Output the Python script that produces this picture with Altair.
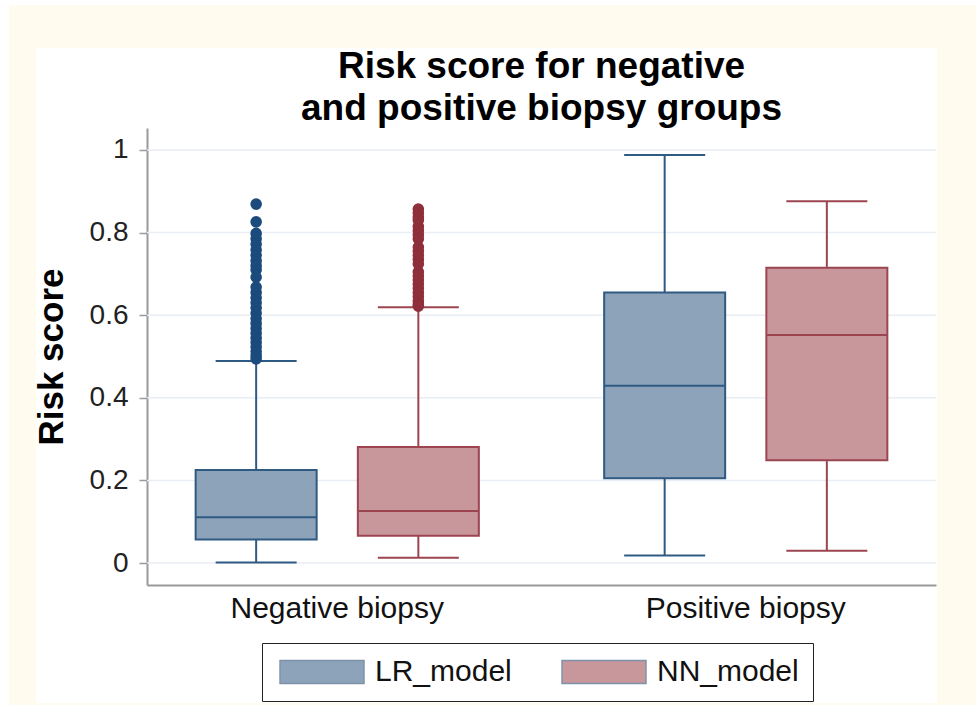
import altair as alt
import pandas as pd

# Summary statistics per biopsy group and model
groups = ["Negative biopsy", "Negative biopsy", "Positive biopsy", "Positive biopsy"]
models = ["LR_model", "NN_model", "LR_model", "NN_model"]
whisker_low = [0.001, 0.013, 0.018, 0.030]
q1 = [0.057, 0.066, 0.205, 0.249]
median = [0.111, 0.126, 0.429, 0.552]
q3 = [0.225, 0.281, 0.655, 0.715]
whisker_high = [0.489, 0.619, 0.988, 0.876]

# Outlying risk scores in the negative-biopsy group
lr_outliers = [0.869, 0.826, 0.798, 0.785, 0.772, 0.758, 0.745, 0.732, 0.720,
               0.710, 0.692, 0.668, 0.655, 0.642, 0.630, 0.618, 0.605, 0.592,
               0.580, 0.568, 0.556, 0.545, 0.534, 0.523, 0.512, 0.502, 0.494]
nn_outliers = [0.857, 0.848, 0.838, 0.830, 0.815, 0.805, 0.795, 0.785, 0.765,
               0.755, 0.745, 0.735, 0.724, 0.705, 0.695, 0.685, 0.675, 0.665,
               0.655, 0.645, 0.635, 0.627, 0.622]

y_ticks = [0, 0.2, 0.4, 0.6, 0.8, 1]
model_names = ["LR_model", "NN_model"]
fill_colors = ["#8ca3ba", "#c8979c"]
line_colors = ["#2f5a82", "#9c4551"]
dot_colors = ["#1b4b7d", "#8e2f3b"]

FONT = "Liberation Sans"
W, H = 789, 457
LEFT, TOP = 147, 128

stats = pd.DataFrame({
    "group": groups, "model": models, "low": whisker_low, "q1": q1,
    "median": median, "q3": q3, "high": whisker_high,
})
stats["series"] = stats["model"]
outliers = pd.DataFrame({
    "group": ["Negative biopsy"] * (len(lr_outliers) + len(nn_outliers)),
    "series": ["LR_model"] * len(lr_outliers) + ["NN_model"] * len(nn_outliers),
    "value": lr_outliers + nn_outliers,
})
outliers["model"] = outliers["series"]
grid = pd.DataFrame({"tick": y_ticks})

x_enc = alt.X("group:N", title=None,
              scale=alt.Scale(paddingInner=0.2, paddingOuter=0.0657),
              axis=alt.Axis(labelAngle=0, ticks=False, labelFontSize=30,
                            labelFont=FONT, labelColor="#111", labelPadding=8,
                            labelLimit=0, domainColor="#9a9a9a", domainWidth=2,
                            grid=False))
xoff = alt.XOffset("model:N", scale=alt.Scale(paddingInner=0, paddingOuter=0.0075))
yscale = alt.Scale(domain=[-0.0532, 1.0532], nice=False, zero=False)
y_axis = alt.Axis(values=y_ticks, format="~g", title="Risk score",
                  titleFontSize=35, titleFont=FONT, titleFontWeight="bold",
                  titleColor="#000", titlePadding=20, labelFontSize=28,
                  labelFont=FONT, labelColor="#222", labelPadding=11,
                  tickColor="#9a9a9a", tickSize=8, tickWidth=1.5,
                  domainColor="#9a9a9a", domainWidth=2, grid=False)

# Colour channels without a legend use their own data-driven domain (sorted,
# so LR_model comes first) to stay apart from the filled legend
line_scale = alt.Scale(range=line_colors)
dot_scale = alt.Scale(range=dot_colors)
stroke_enc = alt.Stroke("series:N", scale=line_scale, legend=None)
line_color = alt.Color("series:N", scale=line_scale, legend=None)

legend = alt.Legend(title=None, orient="none", legendX=115, legendY=515,
                    direction="horizontal", labelFontSize=30, labelFont=FONT,
                    labelColor="#111", symbolType="M-3.65,-1H3.65V1H-3.65Z",
                    symbolSize=529, symbolOffset=31, labelOffset=38,
                    columnPadding=46, padding=14, strokeColor="#222",
                    fillColor="#ffffff", symbolStrokeWidth=1.5,
                    symbolStrokeColor="#7d93ab", labelLimit=300)


def frame(x0, x1, y0, y1):
    # Cream border strip around the white panel, in canvas pixels
    return alt.Chart(pd.DataFrame({"k": [0]})).mark_rect(color="#fffbee").encode(
        x=alt.value(x0 - LEFT), x2=alt.value(x1 - LEFT),
        y=alt.value(y0 - TOP), y2=alt.value(y1 - TOP))


frames = [frame(9, 976, 5, 48), frame(9, 36, 48, 703),
          frame(937, 976, 48, 703), frame(9, 976, 703, 705)]

gridlines = alt.Chart(grid).mark_rule(color="#e8eef3", strokeWidth=1.5).encode(
    y=alt.Y("tick:Q", scale=yscale, axis=y_axis))

base = alt.Chart(stats)
whisk = base.mark_rule(strokeWidth=2).encode(
    x=x_enc, xOffset=xoff, y=alt.Y("low:Q", scale=yscale), y2="high:Q", stroke=stroke_enc)
cap_low = base.mark_tick(size=81, thickness=2, opacity=1).encode(
    x=x_enc, xOffset=xoff, y=alt.Y("low:Q", scale=yscale), color=line_color)
cap_high = base.mark_tick(size=81, thickness=2, opacity=1).encode(
    x=x_enc, xOffset=xoff, y=alt.Y("high:Q", scale=yscale), color=line_color)
box = base.mark_bar(size=121, strokeWidth=2, opacity=1).encode(
    x=x_enc, xOffset=xoff, y=alt.Y("q1:Q", scale=yscale), y2="q3:Q",
    fill=alt.Fill("model:N", scale=alt.Scale(domain=model_names, range=fill_colors),
                  legend=legend),
    stroke=stroke_enc)
med = base.mark_tick(size=121, thickness=2, opacity=1).encode(
    x=x_enc, xOffset=xoff, y=alt.Y("median:Q", scale=yscale), color=line_color)
dots = alt.Chart(outliers).mark_circle(size=135, opacity=1).encode(
    x=x_enc, xOffset=xoff, y=alt.Y("value:Q", scale=yscale),
    color=alt.Color("series:N", scale=dot_scale, legend=None))

chart = alt.layer(*frames, gridlines, whisk, cap_low, cap_high, box, med, dots).resolve_scale(
    color="independent").properties(
    width=W, height=H,
    title=alt.TitleParams(["Risk score for negative", "and positive biopsy groups"],
                          fontSize=37, font=FONT, fontWeight="bold", color="#000",
                          anchor="middle", lineHeight=42, offset=-123),
    autosize=alt.AutoSizeParams(type="none"),
    padding={"left": LEFT, "top": TOP, "right": 976 - LEFT - W, "bottom": 705 - TOP - H},
).configure(background="#ffffff").configure_view(stroke=None)

chart.save("out.html", embed_options={"renderer": "svg", "actions": False})
